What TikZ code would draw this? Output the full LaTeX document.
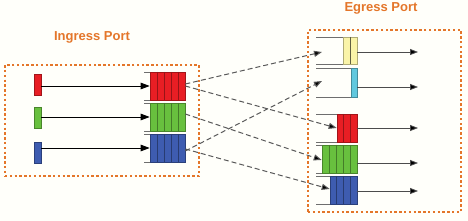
\documentclass[tikz,border=0pt]{standalone}
\usepackage{fontspec}
\setmainfont{Liberation Sans}
\usetikzlibrary{arrows.meta}
\definecolor{orng}{RGB}{228,118,42}
\definecolor{qred}{RGB}{232,30,36}
\definecolor{qgreen}{RGB}{104,192,62}
\definecolor{qblue}{RGB}{62,92,176}
\definecolor{qyellow}{RGB}{250,244,168}
\definecolor{qcyan}{RGB}{96,200,222}
\definecolor{rail}{RGB}{110,110,110}
\begin{document}
\begin{tikzpicture}[x=1pt,y=-1pt,
  portbox/.style={draw=orng, line width=2.6pt, dash pattern=on 2.4pt off 2.4pt},
  title/.style={text=orng, font=\bfseries\fontsize{13}{15}\selectfont},
  blk/.style={draw=#1!70!black, fill=#1, line width=0.6pt, inner sep=0pt, minimum width=7pt, minimum height=21pt},
  qn/.style={draw=#1!70!black, fill=#1, line width=0.6pt, inner sep=0pt},
  div/.style={draw=#1!65!black, line width=0.6pt},
  railln/.style={draw=rail, line width=0.8pt},
  solidarr/.style={draw=black, line width=0.9pt, -{Triangle[length=9pt,width=6.5pt]}},
  outarr/.style={draw=black!70, line width=0.8pt, -{Triangle[length=8pt,width=6pt,fill=black]}},
  dasharr/.style={draw=black!65, line width=1pt, dash pattern=on 5pt off 3pt, -{Triangle[length=8pt,width=6pt,fill=black]}}
]
\useasboundingbox (0,0) rectangle (468,221);
\fill[white!98!yellow] (0,0) rectangle (468,221);

% port boxes and titles
\node[portbox, minimum width=194pt, minimum height=111pt, inner sep=0pt] (inbox) at (102,120.5) {};
\node[portbox, minimum width=153pt, minimum height=182pt, inner sep=0pt] (egbox) at (384.5,121) {};
\node[title] (intitle) at (92,37) {Ingress Port};
\node[title] (egtitle) at (381,8.5) {Egress Port};

% source blocks
\node[blk=qred] (sr) at (37.5,84.5) {};
\node[blk=qgreen] (sg) at (37.5,117.5) {};
\node[blk=qblue] (sb) at (37.5,152.5) {};

% ingress queues
\foreach \nm/\col/\yt/\yb in {iqr/qred/72/100, iqg/qgreen/103/131, iqb/qblue/134/162}{
  \draw[railln] (144,\yt) -- (185,\yt);
  \draw[railln] (144,\yb) -- (185,\yb);
  \node[qn=\col, minimum width=35pt, minimum height={\yb-\yt}] (\nm) at (167.5,{(\yt+\yb)/2}) {};
  \foreach \x in {157,164,171,178}{\draw[div=\col] (\x,\yt) -- (\x,\yb);}
}

% egress rails
\foreach \yt/\yb in {37/64, 68/97, 114/142, 145/173, 176/204}{
  \draw[railln] (316,\yt) -- (357,\yt);
  \draw[railln] (316,\yb) -- (357,\yb);
}
% egress queues
\node[qn=qyellow, minimum width=14pt, minimum height=27pt] (eqy) at (350,50.5) {};
\draw[div=qyellow!60!black] (350,37) -- (350,64);
\node[qn=qcyan, minimum width=6pt, minimum height=29pt] (eqc) at (354,82.5) {};
\node[qn=qred, minimum width=20pt, minimum height=28pt] (eqr) at (347,128) {};
\foreach \x in {343.7,350.3}{\draw[div=qred] (\x,114) -- (\x,142);}
\node[qn=qgreen, minimum width=35pt, minimum height=28pt] (eqg) at (339.5,159) {};
\foreach \x in {329,336,343,350}{\draw[div=qgreen] (\x,145) -- (\x,173);}
\node[qn=qblue, minimum width=27pt, minimum height=28pt] (eqb) at (343.5,190) {};
\foreach \x in {336.75,343.5,350.25}{\draw[div=qblue] (\x,176) -- (\x,204);}

% ingress arrows
\draw[solidarr] (sr.east |- iqr.west) -- (iqr.west);
\draw[solidarr] (sg.east |- iqg.west) -- (iqg.west);
\draw[solidarr] (sb.east |- iqb.west) -- (iqb.west);

% egress out arrows
\foreach \q/\yy in {eqy/52, eqc/87, eqr/128, eqg/163, eqb/191}{
  \coordinate (\q-out) at (418,\yy);
  \draw[outarr] (\q.east |- \q-out) -- (\q-out);
}

% dashed crossbar arrows
\coordinate (tipy) at (322,52);
\coordinate (tipc) at (322,81);
\draw[dasharr] ([yshift=2pt]iqr.east) -- (tipy);
\draw[dasharr] ([yshift=0pt]iqr.east) -- (eqr.west);
\draw[dasharr] ([yshift=3pt]iqg.east) -- ([yshift=-1pt]eqg.west);
\draw[dasharr] ([yshift=-3pt]iqb.east) -- (tipc);
\draw[dasharr] ([yshift=-1pt]iqb.east) -- ([yshift=1pt]eqb.west);
\end{tikzpicture}
\end{document}
